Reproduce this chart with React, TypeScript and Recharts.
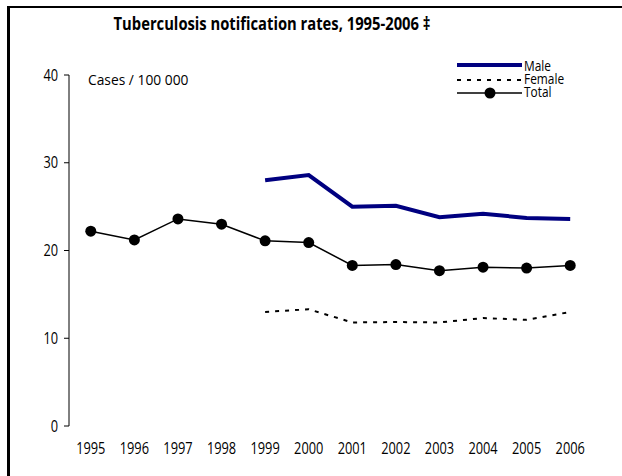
import React from 'react';
import { LineChart, Line, XAxis, YAxis, Legend } from 'recharts';

const FONT = '"Open Sans", sans-serif';
// the reference uses a condensed face; squeeze Open Sans horizontally
const SQUEEZE = 0.8;

const years = [1995, 1996, 1997, 1998, 1999, 2000, 2001, 2002, 2003, 2004, 2005, 2006];
const totalRates = [22.2, 21.2, 23.6, 23.0, 21.1, 20.9, 18.3, 18.4, 17.7, 18.1, 18.0, 18.3];
const maleRates = [null, null, null, null, 28.0, 28.6, 25.0, 25.1, 23.8, 24.2, 23.7, 23.6];
const femaleRates = [null, null, null, null, 13.0, 13.3, 11.8, 11.85, 11.8, 12.3, 12.1, 13.0];
const yTicks = [0, 10, 20, 30, 40];

// tick marks sit between the years, labels on the years
const boundaryTicks = [...years.map(y => y - 0.5), years[years.length - 1] + 0.5];
const domain = [boundaryTicks[0], boundaryTicks[boundaryTicks.length - 1]];

const data = years.map((year, i) => ({
  year,
  Male: maleRates[i],
  Female: femaleRates[i],
  Total: totalRates[i],
}));

function YearTick(props: any) {
  const { x, y, payload } = props;
  return (
    <g transform={`translate(${x},${y})`}>
      <text transform={`scale(${SQUEEZE},1)`} textAnchor="middle" dy={21} fontSize={16} fontFamily={FONT} fill="#000">
        {payload.value}
      </text>
    </g>
  );
}

function ValueTick(props: any) {
  const { x, y, payload } = props;
  return (
    <g transform={`translate(${x},${y})`}>
      <text transform={`scale(${SQUEEZE},1)`} textAnchor="end" dy={5.5} fontSize={16} fontFamily={FONT} fill="#000">
        {payload.value}
      </text>
    </g>
  );
}

function LegendBox() {
  const label = (y: number, s: string) => (
    <g transform={`translate(74,${y})`}>
      <text transform="scale(0.85,1)" fontSize={14} fontFamily={FONT} dy={4.5} fill="#000">{s}</text>
    </g>
  );
  return (
    <svg width={170} height={50} style={{ overflow: 'visible', display: 'block' }}>
      <line x1={7} y1={10} x2={72} y2={10} stroke="#000080" strokeWidth={4} />
      {label(11, 'Male')}
      <line x1={7} y1={25} x2={72} y2={25} stroke="#000" strokeWidth={2} strokeDasharray="4 6" />
      {label(24, 'Female')}
      <line x1={7} y1={38} x2={72} y2={38} stroke="#000" strokeWidth={1.5} />
      <circle cx={40} cy={38} r={5.5} fill="#000" />
      {label(37, 'Total')}
    </svg>
  );
}

export default function App() {
  return (
    <div style={{ position: 'fixed', left: 0, top: 0, width: 622, height: 476, background: '#fff', overflow: 'hidden', fontFamily: FONT }}>
      {/* frame, only left and top edges are visible */}
      <div style={{ position: 'absolute', left: 7, top: 6, width: 700, height: 600, borderLeft: '3px solid #000', borderTop: '2px solid #000' }} />
      <div style={{ position: 'absolute', left: 0, top: 11, width: 544, textAlign: 'center', fontSize: 18, fontWeight: 'bold', lineHeight: '24px', transform: 'scaleX(0.82)' }}>
        Tuberculosis notification rates, 1995-2006 ‡
      </div>
      <div style={{ position: 'absolute', left: 88, top: 70, fontSize: 15, lineHeight: '18px', zIndex: 2, transform: 'scaleX(0.92)', transformOrigin: 'left center' }}>
        Cases / 100 000
      </div>
      <LineChart width={622} height={476} data={data} margin={{ top: 75, right: 30, bottom: 0, left: 0 }}>
        <XAxis
          xAxisId="b"
          dataKey="year"
          type="number"
          domain={domain}
          ticks={boundaryTicks}
          tick={false}
          tickSize={5}
          height={0}
          axisLine={{ stroke: '#000' }}
          tickLine={{ stroke: '#000' }}
        />
        <XAxis
          xAxisId="l"
          dataKey="year"
          type="number"
          domain={domain}
          ticks={years}
          axisLine={false}
          tickLine={false}
          tickSize={0}
          tickMargin={7}
          height={50}
          interval={0}
          tick={<YearTick />}
        />
        <YAxis
          domain={[0, 40]}
          ticks={yTicks}
          width={69}
          tickSize={5}
          tickMargin={6}
          axisLine={{ stroke: '#000' }}
          tickLine={{ stroke: '#000' }}
          tick={<ValueTick />}
        />
        <Legend
          layout="horizontal"
          verticalAlign="middle"
          align="center"
          content={() => <LegendBox />}
          wrapperStyle={{ position: 'absolute', left: 450, top: 55, width: 170, height: 50 }}
        />
        <Line xAxisId="b" dataKey="Male" stroke="#000080" strokeWidth={4} dot={false} isAnimationActive={false} />
        <Line xAxisId="b" dataKey="Female" stroke="#000" strokeWidth={2} strokeDasharray="4 6" dot={false} isAnimationActive={false} />
        <Line xAxisId="b" dataKey="Total" stroke="#000" strokeWidth={1.5} dot={{ r: 5.5, fill: '#000', stroke: 'none' }} activeDot={false} isAnimationActive={false} />
      </LineChart>
    </div>
  );
}
